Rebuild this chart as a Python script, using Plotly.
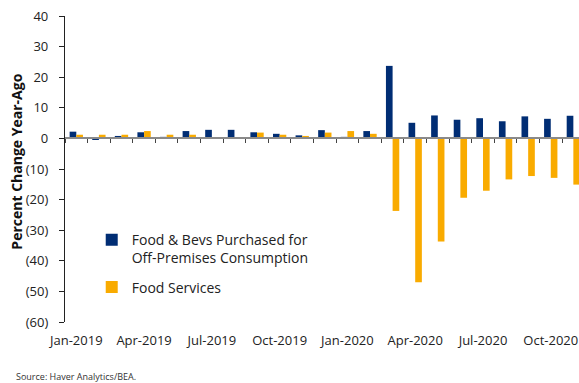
import plotly.graph_objects as go

# Monthly observations, Jan-2019 through Nov-2020
months = [
    "Jan-2019", "Feb-2019", "Mar-2019", "Apr-2019", "May-2019", "Jun-2019",
    "Jul-2019", "Aug-2019", "Sep-2019", "Oct-2019", "Nov-2019", "Dec-2019",
    "Jan-2020", "Feb-2020", "Mar-2020", "Apr-2020", "May-2020", "Jun-2020",
    "Jul-2020", "Aug-2020", "Sep-2020", "Oct-2020", "Nov-2020",
]

# Percent change from a year earlier
food_bevs_off_premises = [
    2.2, -0.5, 0.8, 2.0, 0.5, 2.4, 2.8, 2.8, 2.0, 1.5, 1.0, 2.7,
    0.5, 2.4, 23.7, 5.1, 7.5, 6.1, 6.6, 5.6, 7.2, 6.4, 7.4,
]
food_services = [
    1.2, 1.2, 1.2, 2.4, 1.2, 1.2, 0.2, 0.1, 1.9, 1.2, 0.8, 1.9,
    2.4, 1.5, -23.7, -47.0, -33.7, -19.4, -17.1, -13.4, -12.3, -12.9, -15.1,
]

x_labels = months[::3]
y_ticks = [40, 30, 20, 10, 0, -10, -20, -30, -40, -50, -60]
y_tick_text = [str(v) if v >= 0 else f"({abs(v)})" for v in y_ticks]

NAVY = "#002D74"
ORANGE = "#F9AB00"
FONT = "Open Sans"

fig = go.Figure()
fig.add_trace(go.Bar(
    x=months, y=food_bevs_off_premises, marker_color=NAVY,
    marker_line_width=0, legendgroup="a",
    name="Food & Bevs Purchased for<br>Off-Premises Consumption",
))
fig.add_trace(go.Bar(
    x=months, y=food_services, marker_color=ORANGE,
    marker_line_width=0, legendgroup="b",
    name="Food Services",
))

x_range = [-0.5, 22.25]

fig.update_layout(
    width=579, height=383,
    margin=dict(l=65, r=0, t=16, b=61),
    paper_bgcolor="white", plot_bgcolor="white",
    font=dict(family=FONT, size=13, color="#222222"),
    barmode="group", bargap=0.41, bargroupgap=0,
    showlegend=True,
    legend=dict(
        x=0.052, y=0.32, xanchor="left", yanchor="top",
        font=dict(family=FONT, size=14, color="#222222"),
        bgcolor="rgba(0,0,0,0)", valign="top",
        tracegroupgap=8, traceorder="grouped",
        itemwidth=30,
    ),
    xaxis=dict(
        type="category", categoryorder="array", categoryarray=months,
        range=x_range, tickmode="array", tickvals=x_labels, ticktext=x_labels,
        ticks="outside", ticklen=6, tickcolor="rgba(0,0,0,0)",
        showline=False, showgrid=False, zeroline=False,
        tickfont=dict(size=13, color="#222222"),
    ),
    # axis line drawn through zero with tick marks between months
    xaxis2=dict(
        overlaying="x", anchor="free", position=0.6, side="bottom",
        range=x_range, tickmode="linear", tick0=0.5, dtick=1,
        showline=True, linecolor="#8a8a8a", linewidth=1.5,
        ticks="outside", ticklen=4, tickcolor="#444444", tickwidth=1,
        showticklabels=False, showgrid=False, zeroline=False,
    ),
    yaxis=dict(
        range=[-60, 40], tickmode="array", tickvals=y_ticks, ticktext=y_tick_text,
        showline=True, linecolor="#222222", linewidth=1.2,
        ticks="outside", ticklen=5, tickcolor="#222222",
        showgrid=False, zeroline=False, ticklabelstandoff=8,
        tickfont=dict(size=13, color="#222222"),
    ),
    annotations=[
        dict(
            text="<b>Percent Change Year-Ago</b>", textangle=-90,
            xref="paper", yref="paper", x=-0.094, y=0.523,
            xanchor="center", yanchor="middle", showarrow=False,
            font=dict(family=FONT, size=14, color="#111111"),
        ),
        dict(
            text="Source: Haver Analytics/BEA.",
            xref="paper", yref="paper", x=-0.099, y=-0.178,
            xanchor="left", yanchor="middle", showarrow=False,
            font=dict(family=FONT, size=9, color="#333333"),
        ),
    ],
)

# invisible trace to activate the zero-line axis
fig.add_trace(go.Scatter(
    x=[0], y=[0], xaxis="x2", mode="markers",
    marker=dict(opacity=0), showlegend=False, hoverinfo="skip",
))

fig.write_html("out.html")
